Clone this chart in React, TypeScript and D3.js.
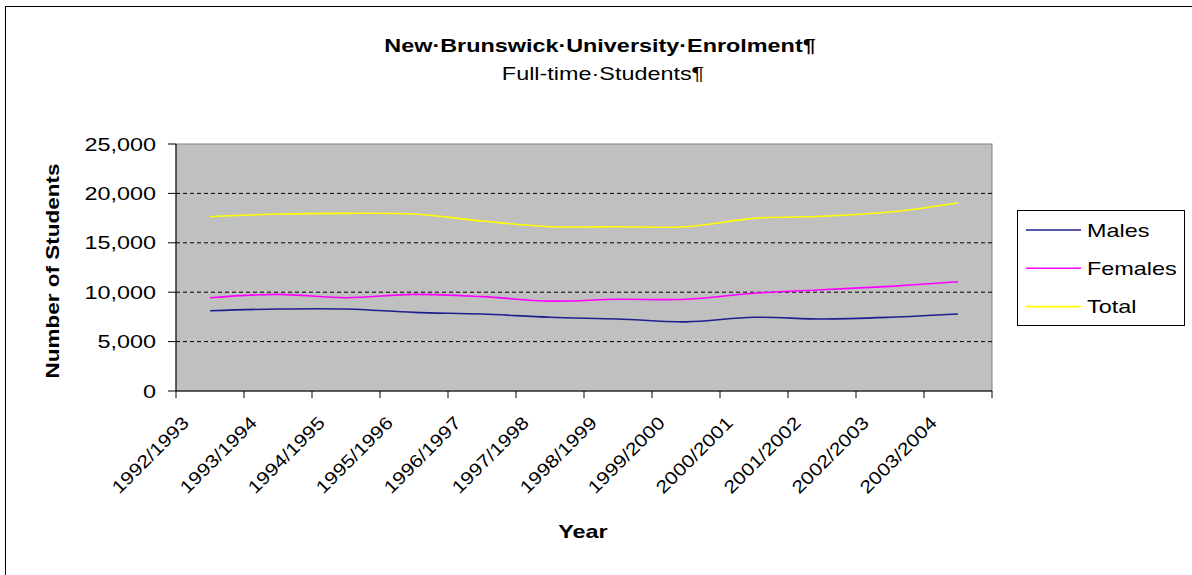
import React from "react";
import * as d3 from "d3";

const categories = [
  "1992/1993", "1993/1994", "1994/1995", "1995/1996", "1996/1997", "1997/1998",
  "1998/1999", "1999/2000", "2000/2001", "2001/2002", "2002/2003", "2003/2004",
];
const males = [8130, 8300, 8300, 7960, 7790, 7460, 7290, 7000, 7460, 7290, 7460, 7790];
const females = [9440, 9780, 9440, 9780, 9550, 9100, 9280, 9280, 9890, 10250, 10590, 11060];
const total = [17640, 17910, 17980, 17910, 17200, 16630, 16630, 16630, 17470, 17680, 18110, 19060];
const yTicks = [0, 5000, 10000, 15000, 20000, 25000];
const seriesNames = ["Males", "Females", "Total"];
const seriesColors = ["#1f1f8f", "#ff00ff", "#ffff00"];

const W = 1192, H = 575;
const L = 176, R = 992, T = 144, B = 391;
const SX = 1.3;
const FONT = "'Liberation Sans', Arial, sans-serif";

function SText(props: { x: number; y: number; anchor?: string; bold?: boolean; size?: number; children: any }) {
  const { x, y, anchor = "start", bold = false, size = 18, children } = props;
  return (
    <text
      transform={`translate(${x},${y}) scale(${SX},1)`}
      textAnchor={anchor}
      fontFamily={FONT}
      fontWeight={bold ? "bold" : "normal"}
      fontSize={size}
      fill="#000"
    >
      {children}
    </text>
  );
}

export default function App() {
  const x = d3.scaleBand<string>().domain(categories).range([L, R]).padding(0);
  const y = d3.scaleLinear().domain([0, 25000]).range([B, T]);
  const fmt = d3.format(",");
  const series = [males, females, total];
  const line = d3
    .line<number>()
    .x((_, i) => (x(categories[i]) as number) + x.bandwidth() / 2)
    .y((d) => y(d))
    .curve(d3.curveCatmullRom.alpha(0.5));

  const boundaries = categories.map((c) => x(c) as number).concat([R]);

  return (
    <svg width={W} height={H} style={{ position: "absolute", left: 0, top: 0, background: "#fff" }}>
      <rect x={0} y={0} width={W} height={H} fill="#fff" />
      {/* chart area border */}
      <rect x={5.5} y={6.5} width={W + 20} height={H + 20} fill="none" stroke="#000" strokeWidth={1} />

      {/* titles */}
      <SText x={600} y={52} anchor="middle" bold size={18}>New·Brunswick·University·Enrolment¶</SText>
      <SText x={603} y={80} anchor="middle" size={18}>Full-time·Students¶</SText>

      {/* plot area */}
      <rect x={L} y={T} width={R - L} height={B - T} fill="#c0c0c0" stroke="#808080" strokeWidth={1} />

      {/* gridlines */}
      {yTicks.filter((t) => t > 0 && t < 25000).map((t) => (
        <line key={t} x1={L} x2={R} y1={y(t)} y2={y(t)} stroke="#000" strokeWidth={1} strokeDasharray="4,3" />
      ))}

      {/* series */}
      {series.map((s, i) => (
        <path key={i} d={line(s) as string} fill="none" stroke={seriesColors[i]} strokeWidth={1.6} />
      ))}

      {/* axes */}
      <line x1={L} x2={L} y1={T} y2={B} stroke="#000" strokeWidth={1} />
      <line x1={L} x2={R} y1={B} y2={B} stroke="#000" strokeWidth={1} />
      {yTicks.map((t) => (
        <g key={t}>
          <line x1={L - 8} x2={L} y1={y(t)} y2={y(t)} stroke="#000" strokeWidth={1} />
          <SText x={156} y={y(t) + 6.5} anchor="end" size={18}>{fmt(t)}</SText>
        </g>
      ))}
      {boundaries.map((bx, i) => (
        <line key={i} x1={bx} x2={bx} y1={B} y2={B + 7} stroke="#000" strokeWidth={1} />
      ))}
      {categories.map((c) => {
        const bx = (x(c) as number) + 14;
        const by = 424;
        return (
          <text
            key={c}
            transform={`translate(${bx},${by}) rotate(-45)`}
            textAnchor="end"
            fontFamily={FONT}
            fontSize={18}
            textLength={100}
            lengthAdjust="spacingAndGlyphs"
            fill="#000"
          >
            {c}
          </text>
        );
      })}

      {/* axis titles */}
      <SText x={583} y={538} anchor="middle" bold size={18}>Year</SText>
      <text
        transform={`translate(59,271) rotate(-90)`}
        textAnchor="middle"
        fontFamily={FONT}
        fontWeight="bold"
        fontSize={18}
        textLength={215}
        lengthAdjust="spacingAndGlyphs"
        fill="#000"
      >
        Number of Students
      </text>

      {/* legend */}
      <rect x={1017.5} y={210.5} width={167} height={115} fill="#fff" stroke="#000" strokeWidth={1} />
      {seriesNames.map((n, i) => {
        const ly = 230 + i * 38.3;
        return (
          <g key={n}>
            <line x1={1026} x2={1081} y1={ly} y2={ly} stroke={seriesColors[i]} strokeWidth={1.6} />
            <SText x={1087} y={ly + 6.5} size={18}>{n}</SText>
          </g>
        );
      })}
    </svg>
  );
}
